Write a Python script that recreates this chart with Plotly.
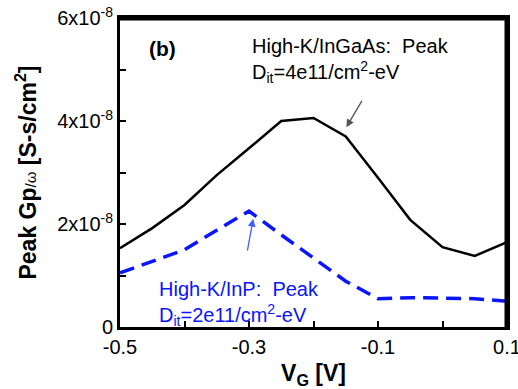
import plotly.graph_objects as go

vg = [-0.5, -0.45, -0.4, -0.35, -0.3, -0.25, -0.2, -0.15, -0.1, -0.05, 0.0, 0.05, 0.1]
gp_ingaas = [1.53e-8, 1.92e-8, 2.37e-8, 2.95e-8, 3.47e-8, 4.0e-8, 4.06e-8, 3.7e-8, 2.9e-8, 2.08e-8, 1.55e-8, 1.38e-8, 1.65e-8]
gp_inp = [1.05e-8, 1.27e-8, 1.5e-8, 1.88e-8, 2.25e-8, 1.79e-8, 1.34e-8, 0.89e-8, 0.55e-8, 0.57e-8, 0.56e-8, 0.55e-8, 0.5e-8]

x_range = [-0.5, 0.1]
y_range = [0, 6e-8]
x_ticks = [-0.5, -0.4, -0.3, -0.2, -0.1, 0.0, 0.1]
x_ticktext = ["-0.5", "", "-0.3", "", "-0.1", "", "0.1"]
y_ticks = [0, 1e-8, 2e-8, 3e-8, 4e-8, 5e-8, 6e-8]
y_ticktext = ["0", "", "2x10<sup>-8</sup>", "", "4x10<sup>-8</sup>", "", "6x10<sup>-8</sup>"]

FONT = "Liberation Sans"
BLUE = "#0a14ff"

fig = go.Figure()
fig.add_trace(go.Scatter(x=vg, y=gp_ingaas, mode="lines",
                         line=dict(color="black", width=2.5)))
fig.add_trace(go.Scatter(x=vg, y=gp_inp, mode="lines",
                         line=dict(color=BLUE, width=3.5, dash="15px,8px")))
# top and right frame edges, taken from the axis ranges
fig.add_trace(go.Scatter(x=[x_range[0], x_range[1], x_range[1]],
                         y=[y_range[1], y_range[1], y_range[0]],
                         mode="lines", hoverinfo="skip",
                         line=dict(color="black", width=5)))

fig.update_layout(
    width=518, height=389,
    margin=dict(l=120, r=11, t=18, b=62),
    paper_bgcolor="white", plot_bgcolor="white",
    showlegend=False,
    font=dict(family=FONT, color="black", size=20),
    xaxis=dict(range=x_range, tickvals=x_ticks, ticktext=x_ticktext,
               automargin=False, ticklabeloverflow="allow",
               ticks="inside", ticklen=6, tickwidth=2, tickcolor="black",
               showline=True, linewidth=3, linecolor="black", mirror=True,
               showgrid=False, zeroline=False,
               title=dict(text="<b>V<sub>G</sub> [V]</b>", font=dict(size=23))),
    yaxis=dict(range=y_range, tickvals=y_ticks, ticktext=y_ticktext,
               automargin=False, ticklabeloverflow="allow",
               ticks="inside", ticklen=6, tickwidth=2, tickcolor="black",
               showline=True, linewidth=3, linecolor="black", mirror=True,
               showgrid=False, zeroline=False,
               title=dict(text="<b>Peak Gp</b><span style='font-size:15px'>/ω</span><b> [S-s/cm<sup>2</sup>]</b>",
                          font=dict(size=23))),
)

fig.add_annotation(x=-0.458, y=5.4e-8, text="<b>(b)</b>", showarrow=False,
                   font=dict(size=21), xanchor="left")
fig.add_annotation(x=-0.298, y=5.7e-8, xanchor="left", yanchor="top", showarrow=False,
                   align="left",
                   text="High-K/InGaAs:  Peak<br>D<sub>it</sub>=4e11/cm<sup>2</sup>-eV",
                   font=dict(size=20, color="black"))
fig.add_annotation(x=-0.149, y=3.88e-8, ax=-0.118, ay=4.54e-8, xref="x", yref="y",
                   axref="x", ayref="y", showarrow=True, arrowhead=2, arrowsize=1.2,
                   arrowwidth=1.3, arrowcolor="#555555", text=" ")
fig.add_annotation(x=-0.4426, y=1.0e-8, xanchor="left", yanchor="top", showarrow=False,
                   align="left",
                   text="High-K/InP:  Peak<br>D<sub>it</sub>=2e11/cm<sup>2</sup>-eV",
                   font=dict(size=20, color=BLUE))
fig.add_annotation(x=-0.2935, y=2.1e-8, ax=-0.306, ay=1.24e-8, xref="x", yref="y",
                   axref="x", ayref="y", showarrow=True, arrowhead=2, arrowsize=1.2,
                   arrowwidth=1.3, arrowcolor="#4060ff", text=" ")

fig.write_html("out.html", config={"displayModeBar": False},
               post_script="document.body.style.margin='0';document.body.style.overflow='hidden';")
